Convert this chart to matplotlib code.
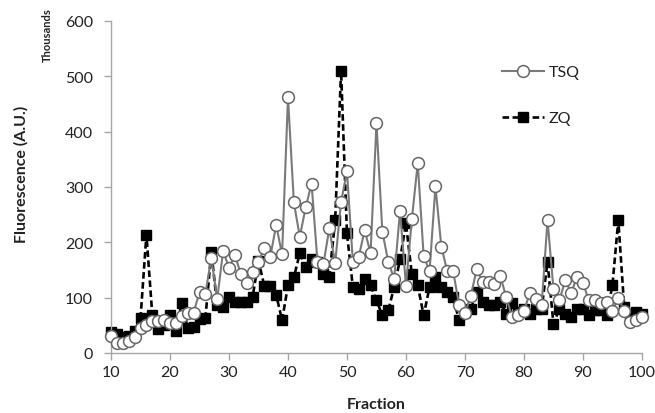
import matplotlib
matplotlib.use("Agg")
import matplotlib.pyplot as plt

fraction = list(range(10, 101))

# fluorescence, thousands of A.U.
tsq = [30, 18, 18, 22, 28, 45, 50, 58, 58, 60,
       55, 55, 66, 72, 73, 110, 107, 172, 97, 184,
       154, 177, 143, 127, 147, 165, 189, 174, 231, 178,
       462, 272, 210, 263, 306, 165, 160, 225, 162, 273,
       328, 165, 174, 222, 180, 415, 219, 165, 134, 257,
       121, 242, 343, 175, 148, 301, 192, 148, 148, 87,
       72, 103, 152, 128, 128, 125, 139, 101, 65, 68,
       75, 109, 97, 86, 240, 116, 95, 131, 109, 137,
       127, 95, 95, 90, 92, 75, 100, 75, 56, 60,
       65]
zq = [37, 34, 29, 30, 40, 63, 214, 68, 44, 50,
      68, 40, 91, 45, 47, 61, 63, 183, 86, 83,
      101, 92, 92, 92, 101, 166, 121, 121, 105, 59,
      122, 137, 180, 156, 169, 165, 143, 137, 240, 510,
      216, 119, 115, 134, 122, 95, 68, 77, 119, 169,
      234, 142, 122, 68, 119, 137, 119, 110, 101, 59,
      74, 80, 110, 92, 87, 87, 92, 71, 91, 74,
      80, 71, 79, 79, 165, 53, 79, 71, 65, 80,
      80, 68, 77, 77, 68, 122, 240, 83, 71, 74,
      71]

font = "Lato"

fig = plt.figure(figsize=(6.55, 4.14), dpi=100)
ax = fig.add_axes([0.1695, 0.145, 0.8105, 0.802])

ax.plot(fraction, tsq, color="#7a7a7a", lw=1.5, marker="o", ms=8.5,
        mfc="white", mec="#666666", mew=1.1, label="TSQ", clip_on=False, zorder=3)
ax.plot(fraction, zq, color="black", lw=1.9, ls=(0, (2.5, 1.3)), marker="s", ms=7.5,
        mfc="black", mec="black", label="ZQ", clip_on=False, zorder=2)

ax.set_xlim(10, 100)
ax.set_ylim(0, 600)
ax.set_xticks(range(10, 101, 10))
ax.set_yticks(range(0, 601, 100))

for side in ["top", "right"]:
    ax.spines[side].set_visible(False)
for side in ["left", "bottom"]:
    ax.spines[side].set_color("#a6a6a6")
    ax.spines[side].set_linewidth(1.0)
ax.tick_params(axis="both", colors="#a6a6a6", labelcolor="#222222",
               labelsize=11.5, length=5, width=1.0)
ax.tick_params(axis="y", pad=8)
for lab in ax.get_xticklabels() + ax.get_yticklabels():
    lab.set_family(font)

fig.text(0.032, 0.58, "Fluorescence (A.U.)", rotation=90, ha="center", va="center",
         fontsize=11.5, fontweight="bold", family=font, color="#222222")
fig.text(0.072, 0.915, "Thousands", rotation=90, ha="center", va="center",
         fontsize=8, fontweight="bold", family=font, color="#222222")
fig.text(0.574, 0.022, "Fraction", ha="center", va="center",
         fontsize=11.5, fontweight="bold", family=font, color="#222222")

leg = fig.legend(loc="upper left", bbox_to_anchor=(0.745, 0.875), frameon=False,
                 handlelength=2.6, handletextpad=0.3, labelspacing=2.0,
                 prop={"family": font, "size": 11.5})
for t in leg.get_texts():
    t.set_color("#222222")

fig.savefig("out.png", dpi=100)
